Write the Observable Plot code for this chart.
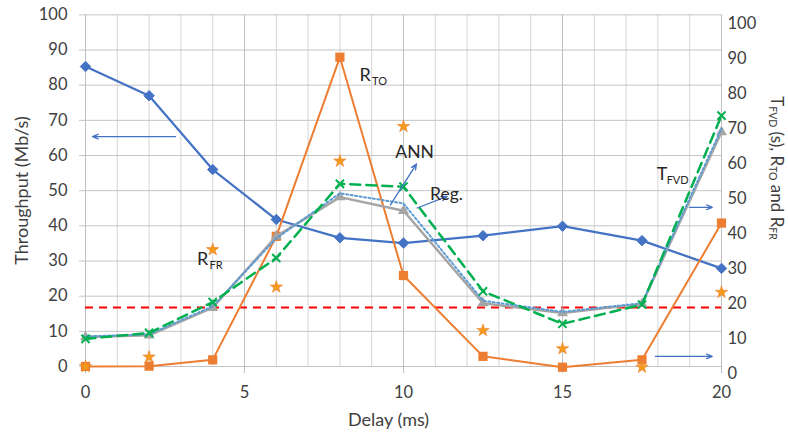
<!DOCTYPE html>
<html><head><meta charset="utf-8">
<script src="https://cdn.jsdelivr.net/npm/d3@7"></script>
<script src="https://cdn.jsdelivr.net/npm/@observablehq/plot@0.6"></script>
<style>body{margin:0;background:#fff} svg{display:block}</style>
</head><body><div id="chart"></div>
<script>
// ---- data ----
const delays = [0, 2, 4, 6, 8, 10, 12.5, 15, 17.5, 20];
// left axis (Mb/s)
const throughput = [85.3, 77.0, 56.0, 41.8, 36.6, 35.1, 37.2, 39.9, 35.8, 27.9];
// right axis
const tFVD = [10.4, 10.9, 18.8, 39.2, 50.4, 46.5, 20.1, 17.3, 19.9, 69.0];
const annFVD = [9.9, 11.6, 20.4, 33.0, 54.2, 53.4, 23.5, 14.2, 19.7, 73.7];
const regFVD = [10.6, 11.2, 19.2, 38.6, 51.5, 48.6, 20.8, 17.6, 20.1, 70.0];
const rTO = [2.0, 2.1, 3.9, 39.2, 90.4, 28.0, 4.9, 1.8, 3.9, 43.0];
const rFR = [2.0, 4.7, 35.4, 24.7, 60.7, 70.6, 12.3, 7.1, 1.8, 23.2];
const threshold = 16.8; // left axis units
const leftTicks = d3.range(0, 101, 10);
const rightTicks = d3.range(0, 101, 10);
const xTicks = [0, 5, 10, 15, 20];
const minorX = d3.range(0, 21, 1);

// left-axis value -> right-axis units (the two axes are slightly offset)
const toR = v => 2 + 1.005 * v;

const rows = delays.map((x, i) => ({
  x, thr: throughput[i], tfvd: tFVD[i], ann: annFVD[i], reg: regFVD[i], rto: rTO[i], rfr: rFR[i]
}));

// annotations (data coordinates)
const arrows = [
  {x1: 2.83, y1: 67.7, x2: 0.22, y2: 67.7},
  {x1: 18.99, y1: 47.5, x2: 19.71, y2: 47.5},
  {x1: 17.92, y1: 4.9, x2: 19.71, y2: 4.9},
  {x1: 9.59, y1: 48.2, x2: 10.41, y2: 59.9},
  {x1: 10.43, y1: 47.3, x2: 11.37, y2: 50.6}
];
const rLabels = [
  {x: 8.62, y: 85.1, main: "R", sub: "TO"},
  {x: 3.51, y: 32.6, main: "R", sub: "FR"}
];
const tLabels = [
  {x: 17.96, y: 56.9, main: "T", sub: "FVD"}
];
const plainLabels = [
  {x: 10.35, y: 63.1, text: "ANN", anchor: "middle"},
  {x: 11.35, y: 51.1, text: "Reg.", anchor: "start"}
];

const FONT = "Lato, 'Open Sans', sans-serif";
const TXT = "#404040";
const LBL = "#262626";

const plot = Plot.plot({
  width: 788, height: 437,
  marginLeft: 85, marginRight: 67, marginTop: 14, marginBottom: 64,
  x: {domain: [0, 20]},
  y: {domain: [0, 102.6]},
  style: {fontFamily: FONT, fontSize: "16.5px", color: TXT, background: "#fff"},
  marks: [
    // grid
    Plot.ruleX(minorX, {y1: toR(0), y2: toR(100), stroke: "#d6d6d6", strokeWidth: 1}),
    Plot.ruleX(xTicks, {y1: 0, y2: toR(100), stroke: "#bfbfbf", strokeWidth: 1}),
    Plot.ruleY(leftTicks, {y: toR, stroke: "#c4c4c4", strokeWidth: 1, insetLeft: -6}),
    // axes
    Plot.text(leftTicks, {y: toR, frameAnchor: "left", dx: -18, textAnchor: "end", text: d => String(d), fontSize: 16.5, fill: TXT}),
    Plot.axisY({anchor: "right", ticks: rightTicks, tickSize: 0, tickPadding: 6, label: null, fontSize: 16.5}),
    Plot.axisX({ticks: xTicks, tickSize: 0, tickPadding: 13, label: null, fontSize: 16.5}),
    Plot.text(["Throughput (Mb/s)"], {frameAnchor: "left", y: 52.3, dx: -63, rotate: -90, textAnchor: "middle", fontSize: 18, fill: TXT}),
    Plot.text(["Delay (ms)"], {frameAnchor: "bottom", x: 9.53, dy: 52, textAnchor: "middle", fontSize: 18, fill: TXT}),
    // threshold
    Plot.ruleY([threshold], {y: toR, x1: 0, x2: 20, stroke: "#ff0000", strokeWidth: 2, strokeDasharray: "8,6"}),
    // throughput
    Plot.line(rows, {x: "x", y: d => toR(d.thr), stroke: "#4472C4", strokeWidth: 2.25}),
    Plot.dot(rows, {x: "x", y: d => toR(d.thr), symbol: "diamond2", r: 4.7, fill: "#4472C4", stroke: "#4472C4", strokeWidth: 1}),
    // R_TO
    Plot.line(rows, {x: "x", y: "rto", stroke: "#ED7D31", strokeWidth: 2}),
    Plot.dot(rows, {x: "x", y: "rto", symbol: "square", r: 5.2, fill: "#ED7D31"}),
    // T_FVD
    Plot.line(rows, {x: "x", y: "tfvd", stroke: "#A5A5A5", strokeWidth: 2.5}),
    Plot.dot(rows, {x: "x", y: "tfvd", symbol: "triangle", r: 4.1, fill: "#A5A5A5"}),
    // Reg.
    Plot.line(rows, {x: "x", y: "reg", stroke: "#5B9BD5", strokeWidth: 2, strokeDasharray: "2,2.5"}),
    // ANN
    Plot.line(rows, {x: "x", y: "ann", stroke: "#00B050", strokeWidth: 2.5, strokeDasharray: "10,6"}),
    Plot.dot(rows, {x: "x", y: "ann", symbol: "times", r: 3.8, stroke: "#00B050", strokeWidth: 2}),
    // R_FR
    Plot.dot(rows, {x: "x", y: "rfr", symbol: "star", r: 3.9, fill: "#F59A1B", stroke: "#ED7D31", strokeWidth: 0.6}),
    // annotations
    Plot.arrow(arrows, {x1: "x1", y1: "y1", x2: "x2", y2: "y2", stroke: "#4472C4", strokeWidth: 1.3, headLength: 7, headAngle: 45}),
    Plot.text(plainLabels, {x: "x", y: "y", text: "text", textAnchor: d => d.anchor, fontSize: 17.5, fill: LBL}),
    Plot.text(rLabels, {x: "x", y: "y", text: "main", textAnchor: "start", fontSize: 18, fill: LBL}),
    Plot.text(rLabels, {x: "x", y: "y", text: "sub", textAnchor: "start", dx: 12.5, dy: 6, fontSize: 11, fill: LBL}),
    Plot.text(tLabels, {x: "x", y: "y", text: "main", textAnchor: "start", fontSize: 18, fill: LBL}),
    Plot.text(tLabels, {x: "x", y: "y", text: "sub", textAnchor: "start", dx: 10, dy: 6, fontSize: 11, fill: LBL})
  ]
});

document.getElementById("chart").appendChild(plot);
const svg = d3.select(plot);

// right axis title with subscripts
const t = svg.append("text")
  .attr("transform", "translate(778,168) rotate(90)")
  .attr("text-anchor", "middle")
  .attr("dominant-baseline", "central")
  .attr("font-family", FONT)
  .attr("font-size", 17)
  .attr("fill", TXT);
const parts = [["T", false], ["FVD", true], [" (s), R", false], ["TO", true], [" and R", false], ["FR", true]];
let sub = false;
parts.forEach(([s, isSub]) => {
  const dy = isSub && !sub ? 5 : (!isSub && sub ? -5 : 0);
  t.append("tspan").attr("font-size", isSub ? 10.5 : 17).attr("dy", dy).text(s);
  sub = isSub;
});
</script>
</body></html>
